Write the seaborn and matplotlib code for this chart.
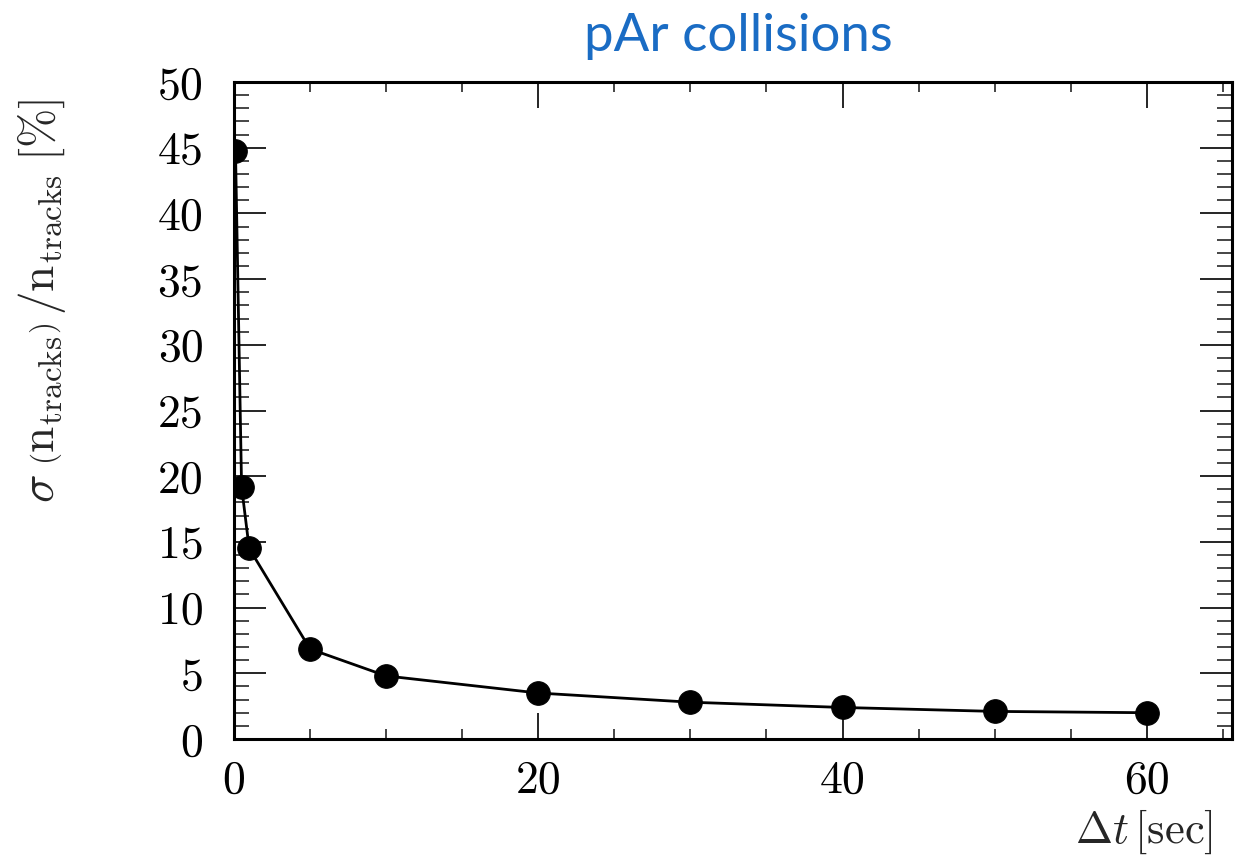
import matplotlib
matplotlib.use("Agg")
import matplotlib.pyplot as plt
import seaborn as sns
import pandas as pd
from matplotlib.ticker import MultipleLocator

dt_sec = [0.1, 0.5, 1, 5, 10, 20, 30, 40, 50, 60]
rel_sigma = [44.75, 19.2, 14.5, 6.85, 4.8, 3.5, 2.8, 2.4, 2.1, 2.0]
x_ticks = [0, 20, 40, 60]
y_ticks = [0, 5, 10, 15, 20, 25, 30, 35, 40, 45, 50]

sns.set_style("ticks")
plt.rcParams["mathtext.fontset"] = "cm"
plt.rcParams["font.family"] = ["cmr10", "DejaVu Serif"]
plt.rcParams["axes.formatter.use_mathtext"] = True

df = pd.DataFrame({"dt": dt_sec, "sig": rel_sigma})

fig = plt.figure(figsize=(12.36, 8.59), dpi=100)
ax = fig.add_axes([0.1893, 0.1397, 0.9968 - 0.1893, 0.9045 - 0.1397])

sns.lineplot(data=df, x="dt", y="sig", ax=ax, color="black", linewidth=2,
             marker="o", markersize=17, markeredgecolor="black",
             markerfacecolor="black", sort=False)

ax.set_xlim(0, 65.6)
ax.set_ylim(0, 50)
ax.set_xticks(x_ticks)
ax.set_yticks(y_ticks)
ax.set_xticklabels([str(v) for v in x_ticks])
ax.set_yticklabels([str(v) for v in y_ticks])
ax.xaxis.set_minor_locator(MultipleLocator(5))
ax.yaxis.set_minor_locator(MultipleLocator(1))

for s in ax.spines.values():
    s.set_linewidth(2.2)
    s.set_visible(True)
    s.set_color("black")

ax.tick_params(axis="x", which="major", direction="in", length=19, width=1.2,
               top=True, bottom=True, labelsize=33, pad=15, colors="black")
ax.tick_params(axis="x", which="minor", direction="in", length=7, width=1.2,
               top=True, bottom=True)
ax.tick_params(axis="y", which="major", direction="in", length=23, width=1.2,
               left=True, right=True, labelsize=33, pad=22, colors="black")
ax.tick_params(axis="y", which="minor", direction="in", length=11, width=1.2,
               left=True, right=True)

ax.set_xlabel(r"$\Delta t\,[\mathrm{sec}]$", fontsize=32, loc="right")
ax.xaxis.set_label_coords(0.981, -0.104)
ax.set_ylabel(r"$\sigma\;\left(\mathrm{n_{tracks}}\right)\,/\mathrm{n_{tracks}}\;[\%]$",
              fontsize=34, loc="top")
ax.yaxis.set_label_coords(-0.166, 0.975)

fig.text(0.597, 0.958, "pAr collisions", color="#1a6cc4", fontsize=38,
         family=["Lato", "DejaVu Sans"], ha="center", va="center")

fig.savefig("out.png", dpi=100, facecolor="white")
